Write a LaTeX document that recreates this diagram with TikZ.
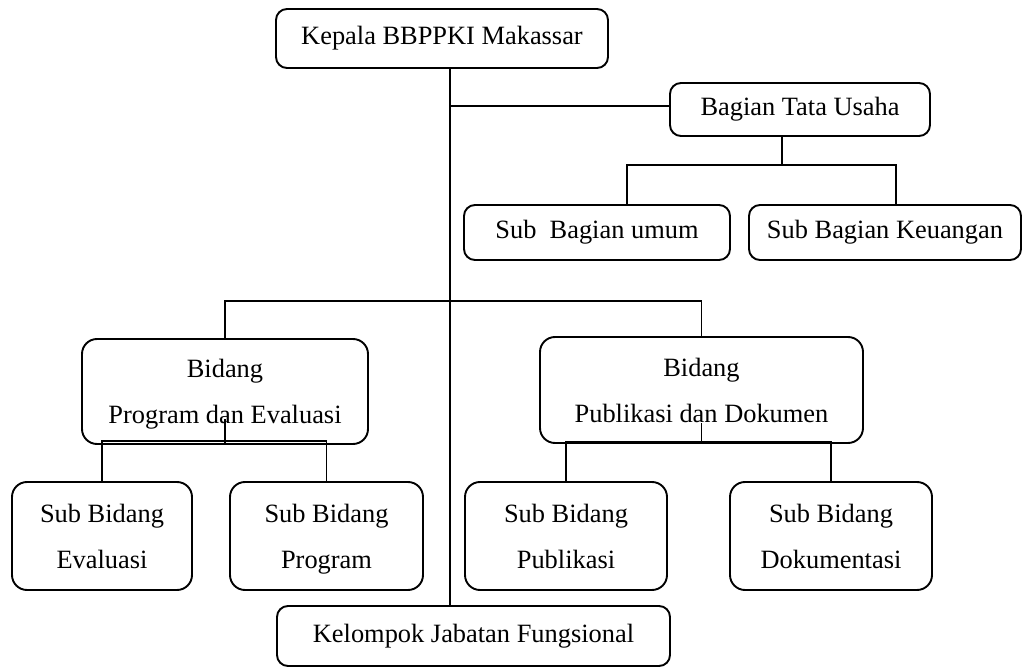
\documentclass[tikz,border=0pt]{standalone}
\usepackage{fontspec}
\setmainfont{Liberation Serif}
\begin{document}
\begin{tikzpicture}[x=1pt,y=-1pt,line width=1.9pt,
  box/.style={draw,rounded corners=11pt,inner sep=0pt,align=center,
    font=\fontsize{26.4}{46}\selectfont},
  tall/.style={box,rounded corners=15pt},
  conn/.style={line width=1.9pt}]
\useasboundingbox (0,0) rectangle (1029,668);
\node[box,minimum width=332pt,minimum height=59pt] (kepala) at (442,38.5) {Kepala BBPPKI Makassar};
\node[box,minimum width=260pt,minimum height=53pt] (tatausaha) at (800,109.5) {Bagian Tata Usaha};
\node[box,minimum width=266pt,minimum height=55pt] (umum) at (597,232.5) {Sub~ Bagian umum};
\node[box,minimum width=272pt,minimum height=55pt] (keuangan) at (885,232.5) {Sub Bagian Keuangan};
\node[tall,minimum width=286pt,minimum height=105pt] (prog) at (225,391.5) {\strut Bidang\\Program dan Evaluasi\strut};
\node[tall,minimum width=323pt,minimum height=106pt] (pub) at (701.5,390) {\strut Bidang\\Publikasi dan Dokumen\strut};
\node[tall,minimum width=180pt,minimum height=108pt] (eval) at (102,536) {\strut Sub Bidang\\Evaluasi\strut};
\node[tall,minimum width=193pt,minimum height=108pt] (program) at (326.5,536) {\strut Sub Bidang\\Program\strut};
\node[tall,minimum width=202pt,minimum height=108pt] (publ) at (566,536) {\strut Sub Bidang\\Publikasi\strut};
\node[tall,minimum width=202pt,minimum height=108pt] (dok) at (831,536) {\strut Sub Bidang\\Dokumentasi\strut};
\node[box,minimum width=393pt,minimum height=60pt] (kel) at (473.5,636) {Kelompok Jabatan Fungsional};
% trunk
\coordinate (tx) at (450,0);
\coordinate (ty) at (0,106);
\draw[conn] (kepala.south -| tx) -- (kel.north -| tx);
\draw[conn] (tx |- ty) -- (tatausaha.west |- ty);
% tata usaha
\coordinate (tux) at (782,0);
\coordinate (ul) at (627,165);
\coordinate (ur) at (896,165);
\draw[conn] (tatausaha.south -| tux) -- (tux |- ul);
\draw[conn] (umum.north -| ul) -- (ul) -- (ur) -- (keuangan.north -| ur);
% bidang
\draw[conn] (prog.north) -- ++(0,-37) -| (pub.north);
\draw[conn] (prog.south) -- ++(0,-26);
\draw[conn] (eval.north) -- ++(0,-40) -| (program.north);
\draw[conn] (pub.south) -- ++(0,-21);
\draw[conn] (publ.north) -- ++(0,-39) -| (dok.north);
\end{tikzpicture}
\end{document}
